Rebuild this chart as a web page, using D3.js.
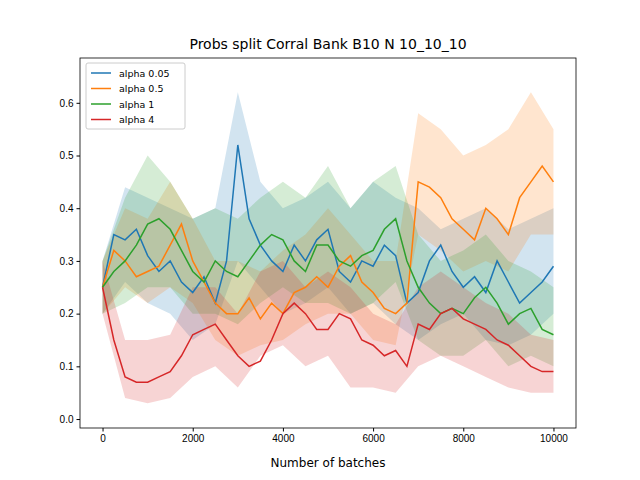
<!DOCTYPE html>
<html><head><meta charset="utf-8">
<script src="https://cdn.jsdelivr.net/npm/d3@7"></script>
<style>body{margin:0;background:#fff}svg{font-family:"DejaVu Sans",sans-serif}</style>
</head><body><svg id="c" width="640" height="480"></svg>
<script>
const seriesNames = ["alpha 0.05","alpha 0.5","alpha 1","alpha 4"];
const colors = ["#1f77b4","#ff7f0e","#2ca02c","#d62728"];
const lineStep = 250, bandStep = 500;
const blueMean = [.25,.35,.34,.36,.31,.28,.30,.26,.24,.27,.22,.30,.52,.38,.33,.30,.28,.33,.30,.34,.36,.28,.26,.30,.29,.33,.31,.22,.24,.30,.33,.28,.25,.27,.24,.30,.26,.22,.24,.26,.29];
const orangeMean = [.25,.32,.30,.27,.28,.29,.33,.37,.30,.26,.22,.20,.20,.23,.19,.22,.20,.24,.25,.27,.25,.29,.31,.26,.24,.21,.20,.22,.45,.44,.42,.38,.36,.34,.40,.38,.35,.42,.45,.48,.45];
const greenMean = [.25,.28,.30,.33,.37,.38,.36,.32,.28,.26,.30,.28,.27,.30,.33,.35,.34,.30,.28,.33,.33,.30,.29,.31,.32,.36,.38,.30,.25,.22,.20,.21,.20,.23,.25,.22,.18,.20,.21,.17,.16];
const redMean = [.25,.15,.08,.07,.07,.08,.09,.12,.16,.17,.18,.15,.12,.10,.11,.15,.20,.22,.20,.17,.17,.20,.19,.15,.14,.12,.13,.10,.18,.17,.20,.21,.19,.18,.17,.15,.14,.12,.10,.09,.09];
const blueHi = [.30,.44,.42,.40,.38,.40,.62,.45,.40,.42,.45,.40,.45,.42,.40,.36,.38,.40,.36,.38,.40];
const blueLo = [.20,.26,.22,.20,.15,.18,.30,.25,.20,.22,.25,.20,.22,.18,.15,.18,.20,.15,.14,.16,.20];
const orangeHi = [.30,.40,.38,.45,.38,.30,.30,.28,.32,.35,.40,.35,.30,.30,.58,.55,.50,.52,.55,.62,.55];
const orangeLo = [.20,.25,.22,.25,.22,.15,.12,.14,.15,.18,.20,.20,.15,.14,.35,.32,.28,.30,.28,.35,.35];
const greenHi = [.30,.42,.50,.45,.38,.40,.38,.42,.45,.42,.48,.40,.45,.48,.35,.30,.32,.35,.30,.28,.25];
const greenLo = [.20,.22,.25,.25,.20,.20,.18,.22,.25,.22,.22,.20,.22,.26,.15,.12,.12,.15,.10,.12,.10];
const redHi = [.30,.15,.15,.16,.25,.25,.20,.28,.30,.25,.28,.25,.20,.18,.25,.28,.25,.22,.20,.16,.15];
const redLo = [.20,.04,.03,.04,.08,.10,.06,.12,.14,.10,.12,.06,.06,.05,.10,.12,.10,.08,.06,.05,.05];
const xTicks = [0,2000,4000,6000,8000,10000];
const yTicks = [0,0.1,0.2,0.3,0.4,0.5,0.6];

const means=[blueMean,orangeMean,greenMean,redMean];
const his=[blueHi,orangeHi,greenHi,redHi], los=[blueLo,orangeLo,greenLo,redLo];
const L=80,R=576,T=58,B=428;
const svg=d3.select("#c");
const x=d3.scaleLinear().domain([-500,10500]).range([L,R]);
const y=d3.scaleLinear().domain([-0.017,0.685]).range([B,T]);
const g=svg.append("g");
his.forEach((h,k)=>{
  const pts=h.map((v,i)=>({x:i*bandStep,hi:v,lo:los[k][i]}));
  g.append("path").datum(pts).attr("fill",colors[k]).attr("fill-opacity",0.2)
   .attr("d",d3.area().x(d=>x(d.x)).y0(d=>y(d.lo)).y1(d=>y(d.hi)));
});
means.forEach((m,k)=>{
  g.append("path").datum(m).attr("fill","none").attr("stroke",colors[k]).attr("stroke-width",1.5)
   .attr("d",d3.line().x((d,i)=>x(i*lineStep)).y(d=>y(d)));
});
svg.append("g").attr("transform",`translate(0,${B})`).call(d3.axisBottom(x).tickValues(xTicks).tickFormat(d3.format("d")).tickSize(3.5).tickPadding(3))
 .call(a=>a.select(".domain").remove()).selectAll("text").attr("font-size",10).attr("fill","#000");
svg.append("g").attr("transform",`translate(${L},0)`).call(d3.axisLeft(y).tickValues(yTicks).tickFormat(d3.format(".1f")).tickSize(3.5).tickPadding(3))
 .call(a=>a.select(".domain").remove()).selectAll("text").attr("font-size",10).attr("fill","#000");
svg.append("rect").attr("x",L).attr("y",T).attr("width",R-L).attr("height",B-T).attr("fill","none").attr("stroke","#000").attr("stroke-width",0.8);
svg.append("text").attr("x",(L+R)/2).attr("y",49).attr("text-anchor","middle").attr("font-size",14).text("Probs split Corral Bank B10 N 10_10_10");
svg.append("text").attr("x",(L+R)/2).attr("y",467).attr("text-anchor","middle").attr("font-size",12).text("Number of batches");
const lg=svg.append("g").attr("transform","translate(86,63)");
lg.append("rect").attr("width",99).attr("height",66).attr("rx",2).attr("fill","#fff").attr("fill-opacity",0.8).attr("stroke","#ccc");
seriesNames.forEach((n,k)=>{
  const yy=10+k*15.5;
  lg.append("line").attr("x1",5).attr("x2",25).attr("y1",yy).attr("y2",yy).attr("stroke",colors[k]).attr("stroke-width",1.5);
  lg.append("text").attr("x",33).attr("y",yy+3.5).attr("font-size",9.5).text(n);
});
</script></body></html>
